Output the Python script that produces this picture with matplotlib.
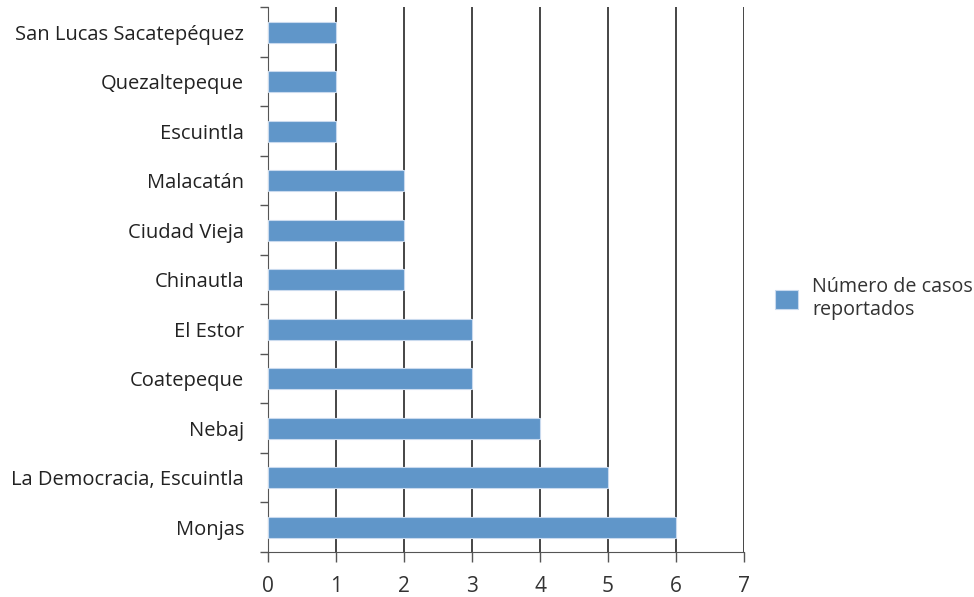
import numpy as np
import matplotlib.pyplot as plt

plt.rcParams['font.family'] = ['Open Sans', 'DejaVu Sans']

lugares = ['Monjas', 'La Democracia, Escuintla', 'Nebaj', 'Coatepeque', 'El Estor',
           'Chinautla', 'Ciudad Vieja', 'Malacatán', 'Escuintla', 'Quezaltepeque',
           'San Lucas Sacatepéquez']
casos = [6, 5, 4, 3, 3, 2, 2, 2, 1, 1, 1]

fig = plt.figure(figsize=(9.74, 5.97), dpi=100)
ax = fig.add_axes([0.275, 0.0755, 0.489, 0.912])

y = np.arange(len(lugares))
ax.barh(y, casos, height=0.42, color='#6096C9', edgecolor='#C9DAEE', linewidth=0.8,
        label='Número de casos\nreportados', zorder=3)

ax.set_xlim(0, 7)
ax.set_ylim(-0.5, len(lugares) - 0.5)
ax.set_xticks(range(8))
ax.grid(axis='x', color='#262626', linewidth=1.2, zorder=1)

# ticks del eje y entre categorías
ax.set_yticks(np.arange(-0.5, len(lugares), 1))
ax.set_yticklabels([])
ax.set_yticks(y, minor=True)
ax.set_yticklabels(lugares, minor=True)
ax.tick_params(axis='y', which='minor', length=0, pad=17, labelsize=14.5, colors='#222222')
ax.tick_params(axis='y', which='major', length=6, width=1, color='#555555')
ax.tick_params(axis='x', length=7, width=1, color='#555555', pad=10,
               labelsize=15, labelcolor='#333333')

for s in ['top', 'right']:
    ax.spines[s].set_visible(False)
ax.spines['left'].set_color('#555555')
ax.spines['bottom'].set_color('#555555')

fig.legend(loc='center left', bbox_to_anchor=(0.7957, 0.5), frameon=False, borderpad=0,
           borderaxespad=0, fontsize=14.2, handlelength=1.15, handleheight=1.15,
           handletextpad=0.75, labelcolor='#333333', labelspacing=0.2)

fig.savefig('out.png', dpi=100)
